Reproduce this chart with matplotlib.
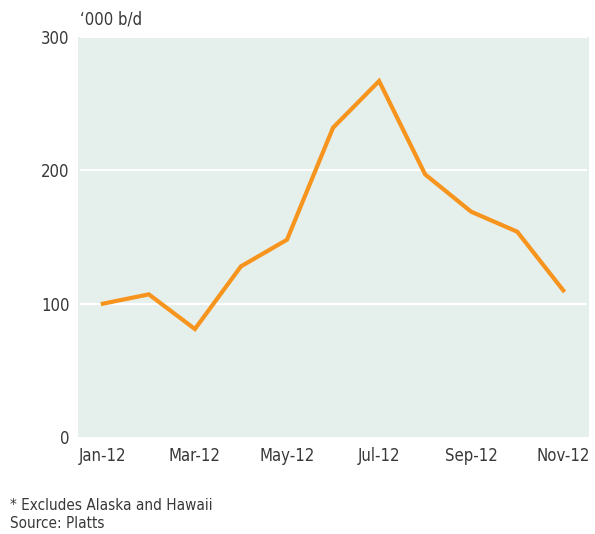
import numpy as np
import matplotlib.pyplot as plt

plt.rcParams['font.family'] = 'DejaVu Sans'
plt.rcParams['font.stretch'] = 'condensed'

# Datos mensuales ('000 b/d)
meses = ["Jan-12", "Feb-12", "Mar-12", "Apr-12", "May-12", "Jun-12",
         "Jul-12", "Aug-12", "Sep-12", "Oct-12", "Nov-12"]
valores = [100, 107, 81, 128, 148, 232, 267, 197, 169, 154, 110]
yticks = [0, 100, 200, 300]

x = np.arange(len(meses))

fig = plt.figure(figsize=(5.95, 5.34), dpi=100)
ax = fig.add_axes([0.131, 0.1816, 0.859, 0.749])
ax.set_facecolor("#e5efeb")

for y in yticks[1:]:
    ax.axhline(y, color="white", linewidth=1.6, xmin=0.005, xmax=0.995, zorder=1)

ax.plot(x, valores, color="#f7941d", linewidth=3, solid_joinstyle='miter', zorder=3)

ax.set_xlim(-0.54, 10.56)
ax.set_ylim(0, 300)
ax.set_yticks(yticks)
ax.set_xticks(x[::2])
ax.set_xticklabels(meses[::2])
ax.tick_params(length=0, labelsize=12, colors="#383838")
ax.tick_params(axis='x', pad=7)
ax.tick_params(axis='y', pad=6)
for lbl in ax.get_yticklabels():
    lbl.set_verticalalignment('center_baseline')
for s in ax.spines.values():
    s.set_visible(False)

fig.text(80 / 595, 1 - 20 / 534, "\u2018000 b/d", fontsize=12, color="#383838", va="center", ha="left")
fig.text(10 / 595, 1 - 506 / 534, "* Excludes Alaska and Hawaii", fontsize=11, color="#383838", va="center")
fig.text(10 / 595, 1 - 524 / 534, "Source: Platts", fontsize=11, color="#383838", va="center")

fig.savefig("out.png", dpi=100)
